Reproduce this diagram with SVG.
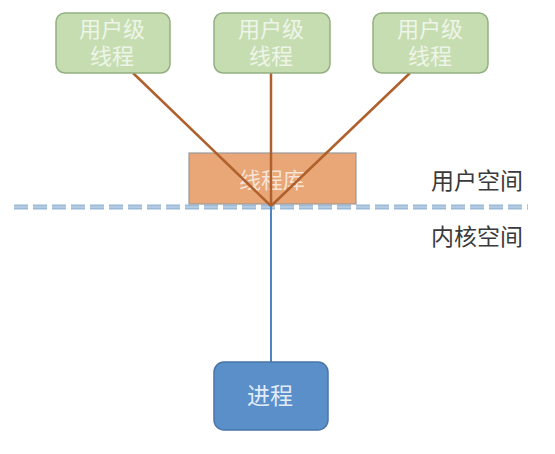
<svg xmlns="http://www.w3.org/2000/svg" width="555" height="454" viewBox="0 0 555 454">
<style>
.ut rect{fill:#c6ddb1;stroke:#93b083;stroke-width:1.5}
.t{font-family:"Noto Sans CJK SC",sans-serif;font-size:22px;text-anchor:middle;fill:#eef5e8}
.lbl{font-family:"Noto Sans CJK SC",sans-serif;font-size:23px;fill:#3a3a3a}
.br{stroke:#b0602c;stroke-width:2.5;fill:none}
</style>
<rect width="555" height="454" fill="#fff"/>
<g id="divider">
<line x1="14" y1="207" x2="528" y2="207" stroke="#9cbad8" stroke-width="5" stroke-dasharray="14 5"/>
<line x1="14" y1="207" x2="528" y2="207" stroke="#c9dbec" stroke-width="1.2" stroke-dasharray="14 5"/>
</g>
<g id="lib">
<rect x="189" y="153" width="167" height="51" fill="#e9a677" stroke="#9a9a9a" stroke-width="1.2"/>
<text class="t" x="272" y="188" fill="#f7e7dc" style="fill:#f6e4d6">线程库</text>
</g>
<g id="connectors">
<line class="br" x1="133" y1="73" x2="271" y2="206"/>
<line class="br" x1="271" y1="73" x2="271" y2="206"/>
<line class="br" x1="410" y1="73" x2="271" y2="206"/>
<line x1="271" y1="206" x2="271" y2="362" stroke="#4f86c0" stroke-width="2"/>
</g>
<g id="u1" class="ut"><rect x="56" y="13" width="114" height="60" rx="9"/><text class="t" x="112" y="37">用户级</text><text class="t" x="112" y="64">线程</text></g>
<g id="u2" class="ut"><rect x="214" y="13" width="116" height="60" rx="9"/><text class="t" x="271" y="37">用户级</text><text class="t" x="271" y="64">线程</text></g>
<g id="u3" class="ut"><rect x="373" y="13" width="115" height="60" rx="9"/><text class="t" x="430" y="37">用户级</text><text class="t" x="430" y="64">线程</text></g>
<g id="proc"><rect x="214" y="362" width="114" height="68" rx="10" fill="#5b8fca" stroke="#4a76a6" stroke-width="1.5"/><text class="t" x="270" y="404" style="font-size:23px;fill:#e2ecf7">进程</text></g>
<g id="labels">
<text class="lbl" x="431" y="189">用户空间</text>
<text class="lbl" x="431" y="245">内核空间</text>
</g>
</svg>
